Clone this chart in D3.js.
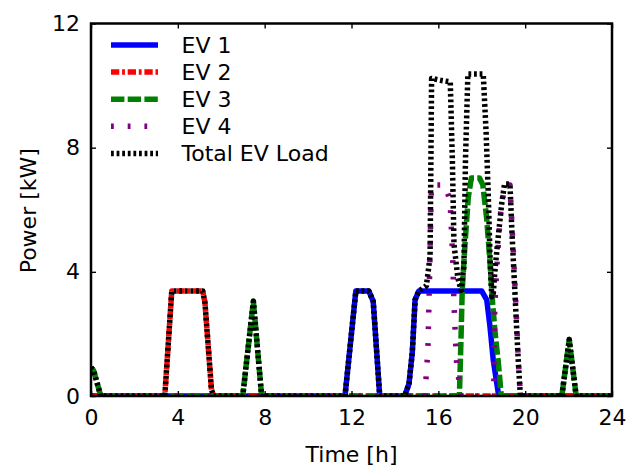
<!DOCTYPE html>
<html>
<head>
<meta charset="utf-8">
<script src="https://cdn.jsdelivr.net/npm/d3@7"></script>
<style>
  body { margin: 0; background: #fff; }
  svg { display: block; font-family: 'DejaVu Sans', sans-serif; }
</style>
</head>
<body>
<svg id="chart" width="640" height="467"></svg>
<script>
// Charging power per EV over the day (hours, kW).
var ev1Time  = [0, 11.7, 12.2, 12.8, 13.0, 13.3, 14.45, 14.65, 14.8, 14.93, 15.1, 18.0, 18.23, 18.38, 18.53, 18.76, 18.85, 24];
var ev1Power = [0, 0, 3.38, 3.38, 3.05, 0, 0, 0.4, 1.4, 3.1, 3.38, 3.38, 3.1, 2.23, 1.16, 0.1, 0, 0];

var ev2Time  = [0, 3.4, 3.72, 5.15, 5.25, 5.55, 5.65, 24];
var ev2Power = [0, 0, 3.38, 3.38, 3.0, 0.2, 0, 0];

var ev3Time  = [0, 0.12, 0.45, 6.99, 7.48, 7.86, 16.97, 17.05, 17.1, 17.23, 17.38, 17.52, 17.9, 18.05,
                18.23, 18.38, 18.5, 18.62, 18.76, 18.9, 21.69, 22.03, 22.35, 24];
var ev3Power = [0.92, 0.82, 0, 0, 3.05, 0, 0, 2.0, 3.4, 4.9, 6.4, 7.02, 7.02, 6.8,
                5.7, 4.3, 3.0, 2.0, 1.1, 0, 0, 1.82, 0, 0];

var ev4Time  = [0, 15.38, 15.52, 15.6, 15.68, 16.3, 16.54, 16.66, 16.72, 16.78, 16.85, 17.0, 17.05,
                18.55, 18.6, 18.7, 18.85, 19.05, 19.3, 19.4, 19.55, 19.68, 19.78, 24];
var ev4Power = [0, 0, 1.5, 4.0, 6.8, 6.8, 6.3, 4.5, 3.0, 2.0, 0.95, 0.3, 0,
                0, 2.9, 4.2, 5.8, 6.8, 6.8, 5.4, 3.3, 1.2, 0, 0];

var totalTime  = [0, 0.12, 0.45, 3.4, 3.72, 5.15, 5.25, 5.55, 5.65, 6.99, 7.48, 7.86,
                  11.7, 12.2, 12.8, 13.0, 13.3, 14.45, 14.65, 14.8, 14.93, 15.1, 15.45, 15.62,
                  15.69, 16.1, 16.55, 16.65, 16.72, 16.9, 17.05, 17.18, 17.25, 17.36, 18.07, 18.2,
                  18.3, 18.38, 18.46, 18.53, 18.61, 18.76, 18.92, 19.05, 19.3, 19.38, 19.53, 19.68,
                  19.78, 21.69, 22.03, 22.35, 24];
var totalPower = [0.92, 0.82, 0, 0, 3.38, 3.38, 3.0, 0.2, 0, 0, 3.05, 0,
                  0, 3.38, 3.38, 3.05, 0, 0, 0.4, 1.4, 3.1, 3.38, 3.55, 4.5,
                  10.23, 10.17, 10.12, 7.5, 4.9, 3.8, 3.4, 4.2, 7.6, 10.37, 10.37, 8.5,
                  6.5, 4.5, 3.2, 3.3, 4.06, 5.13, 6.2, 6.83, 6.83, 5.45, 3.3, 1.16,
                  0, 0, 1.82, 0, 0];

var seriesNames = ['EV 1', 'EV 2', 'EV 3', 'EV 4', 'Total EV Load'];
var xTicks = [0, 4, 8, 12, 16, 20, 24];
var yTicks = [0, 4, 8, 12];

/**
 * Draws the load profile chart into the 'svg' element.
 */
function Chart(svg, series, options) {
  this.svg_ = svg;
  this.options_ = options;

  this.x_ = d3.scaleLinear().domain([0, 24])
              .range([options.left, options.right]);
  this.y_ = d3.scaleLinear().domain([0, 12])
              .range([options.bottom, options.top]);

  this.drawLines(series);
  this.drawAxes();
  this.drawLegend(series);
}

Chart.prototype.drawLines = function(series) {
  var o = this.options_;
  var x = this.x_, y = this.y_;

  this.svg_.append('clipPath')
      .attr('id', 'plot-clip')
    .append('rect')
      .attr('x', o.left)
      .attr('y', o.top)
      .attr('width', o.right - o.left)
      .attr('height', o.bottom - o.top);

  var line = d3.line()
      .x(function(d) { return x(d[0]); })
      .y(function(d) { return y(d[1]); });

  this.svg_.append('g')
      .attr('clip-path', 'url(#plot-clip)')
    .selectAll('path')
    .data(series)
    .enter()
    .append('path')
      .attr('d', function(s) { return line(d3.zip(s.time, s.power)); })
      .attr('fill', 'none')
      .attr('stroke', function(s) { return s.color; })
      .attr('stroke-width', o.lineWidth)
      .attr('stroke-linejoin', 'round')
      .attr('stroke-dasharray', function(s) { return s.dash; });
};

Chart.prototype.drawAxes = function() {
  var o = this.options_;
  var svg = this.svg_;
  var tick = 5;

  var bottom = svg.append('g')
      .attr('transform', 'translate(0,' + o.bottom + ')')
      .call(d3.axisBottom(this.x_).tickValues(xTicks)
              .tickSizeInner(-tick).tickSizeOuter(0).tickPadding(13));
  var left = svg.append('g')
      .attr('transform', 'translate(' + o.left + ',0)')
      .call(d3.axisLeft(this.y_).tickValues(yTicks)
              .tickSizeInner(-tick).tickSizeOuter(0).tickPadding(11));
  var top = svg.append('g')
      .attr('transform', 'translate(0,' + o.top + ')')
      .call(d3.axisTop(this.x_).tickValues(xTicks).tickFormat('')
              .tickSizeInner(-tick).tickSizeOuter(0));
  var right = svg.append('g')
      .attr('transform', 'translate(' + o.right + ',0)')
      .call(d3.axisRight(this.y_).tickValues(yTicks).tickFormat('')
              .tickSizeInner(-tick).tickSizeOuter(0));

  [bottom, left, top, right].forEach(function(g) {
    g.select('.domain').remove();
    g.selectAll('.tick line').attr('stroke', '#000').attr('stroke-width', 1.4);
    g.selectAll('.tick text')
        .attr('fill', '#000')
        .style('font-family', "'DejaVu Sans', sans-serif")
        .style('font-size', o.fontSize + 'px');
  });

  // Frame round the plot area.
  svg.append('rect')
      .attr('x', o.left)
      .attr('y', o.top)
      .attr('width', o.right - o.left)
      .attr('height', o.bottom - o.top)
      .attr('fill', 'none')
      .attr('stroke', '#000')
      .attr('stroke-width', 2.5);

  svg.append('text')
      .attr('x', (o.left + o.right) / 2)
      .attr('y', 461.5)
      .attr('text-anchor', 'middle')
      .style('font-size', o.fontSize + 'px')
      .text('Time [h]');

  svg.append('text')
      .attr('transform', 'translate(35.5,' + ((o.top + o.bottom) / 2 + 1) + ') rotate(-90)')
      .attr('text-anchor', 'middle')
      .style('font-size', o.fontSize + 'px')
      .text('Power [kW]');
};

Chart.prototype.drawLegend = function(series) {
  var o = this.options_;

  var items = this.svg_.append('g')
    .selectAll('g')
    .data(series)
    .enter()
    .append('g')
      .attr('transform', function(d, i) {
        return 'translate(0,' + (45 + i * 27.1) + ')';
      });

  items.append('line')
      .attr('x1', 111)
      .attr('x2', 158)
      .attr('stroke', function(s) { return s.color; })
      .attr('stroke-width', o.lineWidth)
      .attr('stroke-dasharray', function(s) { return s.dash; });

  items.append('text')
      .attr('x', 181.5)
      .attr('y', 8)
      .style('font-size', o.fontSize + 'px')
      .text(function(s) { return s.name; });
};

var styles = [
  {color: '#0000ff', dash: null},
  {color: '#ff0000', dash: '8.3,2.8,2.8,2.8'},
  {color: '#008000', dash: '13.4,3.3'},
  {color: '#800080', dash: '2.8,13.9'},
  {color: '#000000', dash: '2.8,2.8'}
];

var times = [ev1Time, ev2Time, ev3Time, ev4Time, totalTime];
var powers = [ev1Power, ev2Power, ev3Power, ev4Power, totalPower];

var series = seriesNames.map(function(name, i) {
  return {name: name, time: times[i], power: powers[i],
          color: styles[i].color, dash: styles[i].dash};
});

new Chart(d3.select('#chart'), series, {
  left: 91, right: 612, top: 23.5, bottom: 396,
  lineWidth: 5.5, fontSize: 22
});
</script>
</body>
</html>
